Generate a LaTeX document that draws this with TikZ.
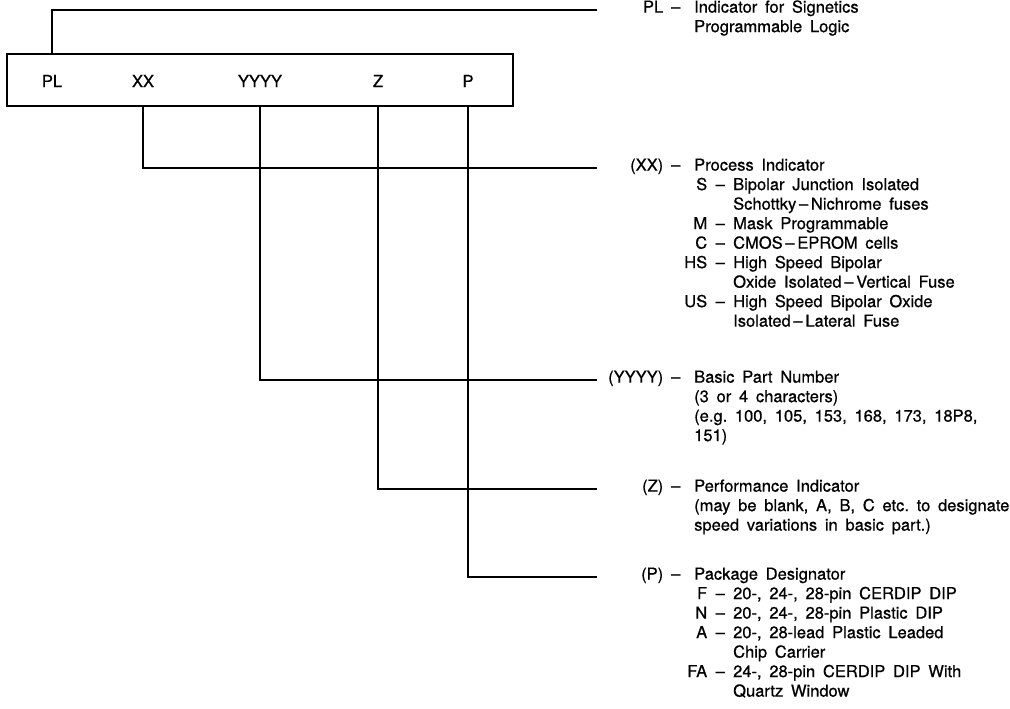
\documentclass[tikz,border=0pt]{standalone}
\usepackage{fontspec}
\setmainfont{TeX Gyre Heros}[FakeBold=0.7]
\usepackage{tikz}

\newenvironment{partlist}{\frenchspacing\begin{tabular}[t]{@{}l@{}l@{}l@{}}}{\end{tabular}}
\newcommand{\dsh}{\textendash}
\newcommand{\ka}[1]{\makebox[66pt][r]{#1}\makebox[25pt]{\dsh}}
\newcommand{\kb}[1]{\makebox[19pt][r]{#1}\makebox[26pt]{\dsh}}
\newcommand{\bodyfont}{\fontsize{16.5}{19.5}\selectfont\spaceskip=0.47em\relax}

\begin{document}
\begin{tikzpicture}[x=1pt, y=-1pt]
\tikzstyle{txt} = [font=\bodyfont, inner sep=0pt]
\tikzstyle{field} = [txt]
\tikzstyle{desc} = [txt, anchor=mid west]
\tikzstyle{lead} = [line width=1.2pt]

\useasboundingbox (0,0) rectangle (1010,709);

% part number box
\node[draw, line width=1.2pt, minimum width=506pt, minimum height=52pt, inner sep=0pt] (code) at (260,80) {};
\node[field] (pl) at (52,81) {PL};
\node[field] (xx) at (143,81) {XX};
\node[field] (yyyy) at (260,81) {YYYY};
\node[field] (z) at (378,81) {Z};
\node[field] (p) at (468,81) {P};

% explanations
\node[desc] (pldesc) at (597,10) {\begin{partlist}
\ka{PL} & \multicolumn{2}{l}{Indicator for Signetics} \\
 & \multicolumn{2}{l}{Programmable Logic}
\end{partlist}};

\node[desc] (xxdesc) at (597,168) {\begin{partlist}
\ka{(XX)} & \multicolumn{2}{l}{Process Indicator} \\
 & \kb{S} & Bipolar Junction Isolated \\
 & & Schottky\,\dsh\,Nichrome fuses \\
 & \kb{M} & Mask Programmable \\
 & \kb{C} & CMOS\,\dsh\,EPROM cells \\
 & \kb{HS} & High Speed Bipolar \\
 & & Oxide Isolated\,\dsh\,Vertical Fuse \\
 & \kb{US} & High Speed Bipolar Oxide \\
 & & Isolated\,\dsh\,Lateral Fuse
\end{partlist}};

\node[desc] (yyyydesc) at (597,380) {\begin{partlist}
\ka{(YYYY)} & \multicolumn{2}{l}{Basic Part Number} \\
 & \multicolumn{2}{l}{(3 or 4 characters)} \\
 & \multicolumn{2}{l}{(e.g. 100, 105, 153, 168, 173, 18P8,} \\
 & \multicolumn{2}{l}{151)}
\end{partlist}};

\node[desc] (zdesc) at (597,489) {\begin{partlist}
\ka{(Z)} & \multicolumn{2}{l}{Performance Indicator} \\
 & \multicolumn{2}{l}{(may be blank, A, B, C etc. to designate} \\
 & \multicolumn{2}{l}{speed variations in basic part.)}
\end{partlist}};

\node[desc] (pdesc) at (597,577) {\begin{partlist}
\ka{(P)} & \multicolumn{2}{l}{Package Designator} \\
 & \kb{F} & 20-, 24-, 28-pin CERDIP DIP \\
 & \kb{N} & 20-, 24-, 28-pin Plastic DIP \\
 & \kb{A} & 20-, 28-lead Plastic Leaded \\
 & & Chip Carrier \\
 & \kb{FA} & 24-, 28-pin CERDIP DIP With \\
 & & Quartz Window
\end{partlist}};

% leader lines
\draw[lead] (pl |- code.north) |- (pldesc.mid west);
\draw[lead] (xx |- code.south) |- (xxdesc.mid west);
\draw[lead] (yyyy |- code.south) |- (yyyydesc.mid west);
\draw[lead] (z |- code.south) |- (zdesc.mid west);
\draw[lead] (p |- code.south) |- (pdesc.mid west);
\end{tikzpicture}
\end{document}
